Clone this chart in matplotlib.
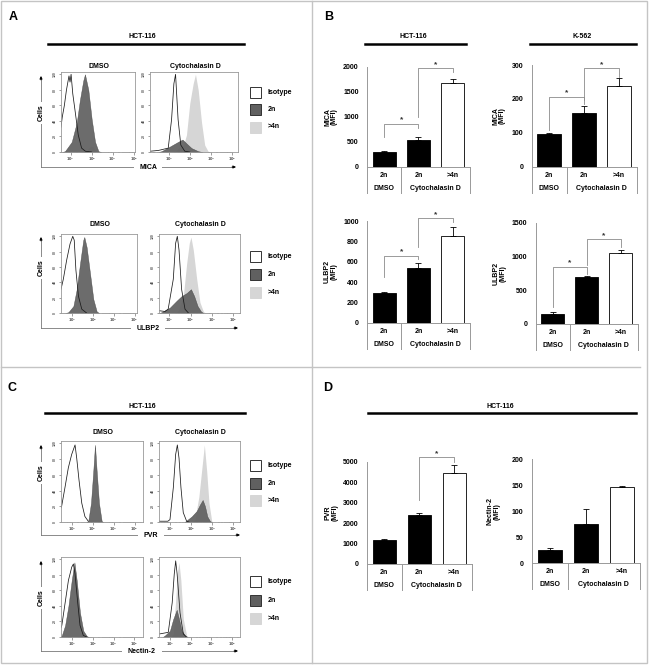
import numpy as np
import matplotlib
matplotlib.use('Agg')
import matplotlib.pyplot as plt
from matplotlib.patches import Rectangle

W, H = 649, 665
plt.rcParams['font.family'] = ['Liberation Sans', 'DejaVu Sans']
plt.rcParams['font.weight'] = 'bold'

# ---------------- bar data (MFI) ----------------
bar_labels = ['2n', '2n', '>4n']
group_labels = ['DMSO', 'Cytochalasin D']
mica_hct = [290, 530, 1680]
mica_hct_err = [20, 60, 80]
mica_k562 = [95, 158, 238]
mica_k562_err = [5, 20, 25]
ulbp2_hct = [295, 540, 855]
ulbp2_hct_err = [10, 50, 90]
ulbp2_k562 = [150, 700, 1050]
ulbp2_k562_err = [25, 15, 50]
pvr_hct = [1150, 2400, 4470]
pvr_hct_err = [50, 100, 380]
nectin_hct = [26, 76, 147]
nectin_hct_err = [4, 28, 1.5]

# significance brackets: (bar i, bar j, top, left leg end, right leg end)
mica_hct_sig = [(0, 1, 850, 600, 780), (1, 2, 1967, 1000, 1900)]
mica_k562_sig = [(0, 1, 206, 108, 197), (1, 2, 290, 185, 265)]
ulbp2_hct_sig = [(0, 1, 656, 452, 623), (1, 2, 1026, 747, 990)]
ulbp2_k562_sig = [(0, 1, 848, 256, 736), (1, 2, 1254, 873, 1145)]
pvr_hct_sig = [(1, 2, 5215, 3128, 5000)]

# ---------------- flow histograms (log10 intensity, % of max) ----------------
mica_dmso_iso = ([1.54, 1.6, 1.7, 1.8, 1.92, 1.97, 2.02, 2.1, 2.2, 2.36, 2.52, 2.7, 3.0],
                 [32, 45, 60, 80, 98, 90, 100, 75, 55, 22, 5, 1, 0])
mica_dmso_2n = ([1.6, 1.73, 2.05, 2.29, 2.44, 2.6, 2.68, 2.84, 3.0, 3.16, 3.32, 3.45],
                [0, 1, 13, 38, 67, 92, 100, 80, 42, 13, 1, 0])
mica_dmso_4n = ([2.7, 2.85, 2.95, 3.05, 3.2, 3.35], [0, 5, 8, 7, 2, 0])
mica_cyto_iso = ([1.1, 1.5, 1.97, 2.13, 2.24, 2.32, 2.44, 2.57, 2.76, 3.0],
                 [1, 2, 5, 42, 88, 100, 42, 9, 1, 0])
mica_cyto_4n = ([2.3, 2.44, 2.7, 2.84, 3.0, 3.16, 3.27, 3.4, 3.56, 3.71, 3.87, 4.0],
                [0, 5, 9, 22, 63, 88, 100, 80, 38, 9, 1, 0])
mica_cyto_2n = ([1.5, 1.65, 2.05, 2.44, 2.65, 2.84, 3.08, 3.4, 3.6],
                [0, 1, 7, 13, 16, 11, 5, 1, 0])

ulbp2_dmso_iso = ([1.49, 1.6, 1.76, 1.92, 2.05, 2.12, 2.2, 2.32, 2.48, 2.71],
                  [31, 44, 69, 90, 100, 95, 56, 22, 5, 0])
ulbp2_dmso_2n = ([1.7, 1.84, 2.08, 2.24, 2.4, 2.55, 2.6, 2.71, 2.87, 3.03, 3.19, 3.3],
                 [0, 1, 9, 31, 65, 95, 99, 86, 52, 18, 2, 0])
ulbp2_cyto_iso = ([1.52, 1.8, 1.95, 2.19, 2.3, 2.38, 2.46, 2.58, 2.74, 2.9],
                  [3, 2, 5, 44, 91, 100, 82, 31, 5, 0])
ulbp2_cyto_4n = ([2.3, 2.42, 2.66, 2.82, 2.94, 3.02, 3.13, 3.29, 3.44, 3.6, 3.7],
                 [0, 3, 22, 65, 91, 99, 82, 44, 14, 2, 0])
ulbp2_cyto_2n = ([1.55, 1.64, 2.03, 2.35, 2.58, 2.82, 3.02, 3.17, 3.33, 3.49, 3.6],
                 [0, 1, 7, 16, 22, 26, 31, 22, 9, 2, 0])

pvr_dmso_iso = ([1.49, 1.52, 1.68, 1.84, 2.0, 2.08, 2.16, 2.24, 2.35, 2.48, 2.63, 2.79],
                [18, 20, 44, 69, 86, 92, 98, 81, 53, 24, 7, 1])
pvr_dmso_2n = ([2.7, 2.79, 2.92, 3.03, 3.11, 3.19, 3.3, 3.43, 3.5],
               [0, 1, 24, 65, 98, 65, 24, 1, 0])
pvr_cyto_iso = ([1.48, 1.9, 2.0, 2.16, 2.27, 2.35, 2.43, 2.52, 2.63, 2.79, 2.9],
                [1, 1, 3, 44, 86, 98, 81, 44, 12, 1, 0])
pvr_cyto_4n = ([3.1, 3.18, 3.37, 3.5, 3.63, 3.74, 3.85, 3.98, 4.05],
               [0, 3, 32, 65, 98, 65, 24, 1, 0])
pvr_cyto_2n = ([2.7, 2.79, 3.03, 3.27, 3.42, 3.55, 3.66, 3.77, 3.9, 4.0],
               [0, 2, 7, 14, 22, 28, 20, 7, 1, 0])

nectin_dmso_iso = ([1.45, 1.49, 1.65, 1.81, 1.97, 2.05, 2.13, 2.26, 2.37, 2.53, 2.7],
                   [12, 15, 44, 73, 90, 94, 81, 44, 15, 2, 0])
nectin_dmso_2n = ([1.45, 1.49, 1.65, 1.81, 1.97, 2.1, 2.21, 2.37, 2.53, 2.7, 2.8],
                  [1, 2, 15, 40, 73, 96, 73, 31, 8, 1, 0])
nectin_cyto_iso = ([1.47, 1.51, 1.92, 2.11, 2.21, 2.28, 2.35, 2.49, 2.65, 2.8],
                   [4, 4, 6, 44, 81, 98, 81, 31, 4, 0])
nectin_cyto_4n = ([2.05, 2.16, 2.27, 2.37, 2.44, 2.53, 2.65, 2.81, 2.9],
                  [0, 4, 44, 85, 96, 73, 23, 2, 0])
nectin_cyto_2n = ([1.65, 1.76, 2.0, 2.16, 2.33, 2.44, 2.57, 2.73, 2.85],
                  [0, 2, 8, 23, 35, 23, 8, 2, 0])

legend_names = ['Isotype', '2n', '>4n']
c_2n = '#606060'
c_4n = '#d6d6d6'
c_line = '#8a8a8a'

fig = plt.figure(figsize=(W / 100, H / 100), dpi=100)

# overlay in pixel coords for frames, headers, arrows
ov = fig.add_axes([0, 0, 1, 1])
ov.set_xlim(0, W)
ov.set_ylim(H, 0)
ov.axis('off')


def add_ax(x0, y0, x1, y1):
    return fig.add_axes([x0 / W, 1 - y1 / H, (x1 - x0) / W, (y1 - y0) / H])


def hline(x0, x1, y, **kw):
    ov.plot([x0, x1], [y, y], **kw)


def txt(x, y, s, size=5, **kw):
    ov.text(x, y, s, fontsize=size, ha=kw.pop('ha', 'center'), va=kw.pop('va', 'center'),
            fontweight='bold', **kw)


# frame
ov.add_patch(Rectangle((1, 1), 646, 662, fill=False, ec='#c4c4c4', lw=1.0))
ov.plot([312, 312], [1, 663], color='#c4c4c4', lw=1.0)
hline(1, 640, 367, color='#c4c4c4', lw=1.0)

# panel letters
for lx, ly, s in [(13, 17, 'A'), (329, 17, 'B'), (12, 388, 'C'), (328, 388, 'D')]:
    txt(lx, ly, s, size=9)

# cell line headers
for cx, y, x0, x1, s in [(142, 37, 48, 244, 'HCT-116'), (413, 37, 365, 466, 'HCT-116'),
                         (582, 37, 530, 636, 'K-562'), (142, 406, 45, 245, 'HCT-116'),
                         (500, 406, 368, 636, 'HCT-116')]:
    txt(cx, y, s)
    hline(x0, x1, y + 7, color='black', lw=1.8)


def histo(x0, x1, y0, y1, lim, curves):
    ax = add_ax(x0, y0, x1, y1)
    iso, n2, n4 = curves
    if n4 is not None:
        ax.fill_between(n4[0], n4[1], color=c_4n, lw=0)
    if n2 is not None:
        ax.fill_between(n2[0], n2[1], color=c_2n, lw=0.3, ec='#404040', alpha=0.92)
    ax.plot(iso[0], iso[1], color='#1a1a1a', lw=0.55)
    ax.set_xlim(*lim)
    ax.set_ylim(0, 103)
    ax.set_xticks([2, 3, 4, 5])
    ax.set_xticklabels([r'$10^2$', r'$10^3$', r'$10^4$', r'$10^5$'])
    minors = [np.log10(k) + n for n in range(1, 6) for k in range(2, 10)]
    ax.set_xticks([m for m in minors if lim[0] < m < lim[1]], minor=True)
    ax.set_yticks([0, 20, 40, 60, 80, 100])
    ax.set_yticklabels(['0', '20', '40', '60', '80', '100'], rotation=90, va='center')
    ax.tick_params(labelsize=2.5, length=1.8, width=0.4, pad=1, colors='#555')
    ax.tick_params(which='minor', length=1, width=0.3, colors='#555')
    for sp in ax.spines.values():
        sp.set_color('#999')
        sp.set_linewidth(0.6)
    return ax


hist_rows = [
    dict(y0=72, y1=152, dx=(61, 135), dlim=(1.54, 5.06), cx=(150, 238), clim=(1.1, 5.3),
         title_y=66, arrow_top=76, base=167, cells_y=113, label='MICA', label_x=148, ax_end=236,
         leg_y=[87, 104, 121.5],
         dmso=(mica_dmso_iso, mica_dmso_2n, mica_dmso_4n), cyto=(mica_cyto_iso, mica_cyto_2n, mica_cyto_4n)),
    dict(y0=234, y1=313, dx=(61, 137), dlim=(1.49, 5.11), cx=(159, 240), clim=(1.52, 5.32),
         title_y=225, arrow_top=237, base=328, cells_y=268, label='ULBP2', label_x=148, ax_end=238,
         leg_y=[251, 269, 287],
         dmso=(ulbp2_dmso_iso, ulbp2_dmso_2n, None), cyto=(ulbp2_cyto_iso, ulbp2_cyto_2n, ulbp2_cyto_4n)),
    dict(y0=441, y1=522, dx=(61, 143), dlim=(1.49, 5.4), cx=(159, 240), clim=(1.48, 5.32),
         title_y=433, arrow_top=445, base=535, cells_y=473, label='PVR', label_x=151, ax_end=240,
         leg_y=[460, 478, 495],
         dmso=(pvr_dmso_iso, pvr_dmso_2n, None), cyto=(pvr_cyto_iso, pvr_cyto_2n, pvr_cyto_4n)),
    dict(y0=557, y1=637, dx=(61, 143), dlim=(1.45, 5.42), cx=(159, 240), clim=(1.47, 5.4),
         title_y=None, arrow_top=561, base=651, cells_y=598, label='Nectin-2', label_x=142, ax_end=238,
         leg_y=[576, 595, 613],
         dmso=(nectin_dmso_iso, nectin_dmso_2n, None), cyto=(nectin_cyto_iso, nectin_cyto_2n, nectin_cyto_4n)),
]

for r in hist_rows:
    histo(r['dx'][0], r['dx'][1], r['y0'], r['y1'], r['dlim'], r['dmso'])
    histo(r['cx'][0], r['cx'][1], r['y0'], r['y1'], r['clim'], r['cyto'])
    if r['title_y'] is not None:
        txt((r['dx'][0] + r['dx'][1]) / 2 + 1, r['title_y'], 'DMSO')
        txt((r['cx'][0] + r['cx'][1]) / 2 + 1, r['title_y'], 'Cytochalasin D')
    # L shaped axis arrows
    ov.plot([41, 41], [r['base'], r['arrow_top'] + 3], color='#777', lw=0.6)
    ov.annotate('', xy=(41, r['arrow_top']), xytext=(41, r['arrow_top'] + 4),
                arrowprops=dict(arrowstyle='-|>', color='black', lw=0.6, mutation_scale=4,
                                shrinkA=0, shrinkB=0))
    hline(41, r['ax_end'] - 3, r['base'], color='#777', lw=0.6)
    ov.annotate('', xy=(r['ax_end'], r['base']), xytext=(r['ax_end'] - 4, r['base']),
                arrowprops=dict(arrowstyle='-|>', color='black', lw=0.6, mutation_scale=4,
                                shrinkA=0, shrinkB=0))
    txt(41, r['cells_y'], 'Cells', rotation=90, bbox=dict(fc='white', ec='none', pad=2))
    txt(r['label_x'], r['base'] + 0.5, r['label'], bbox=dict(fc='white', ec='none', pad=4))
    # legend
    for ly, name, fc in zip(r['leg_y'], legend_names, ['white', c_2n, c_4n]):
        ec = '#333' if fc != c_4n else c_4n
        ov.add_patch(Rectangle((250, ly), 11, 11, fc=fc, ec=ec, lw=0.7))
        txt(268, ly + 5.5, name, ha='left')


def bars(x0, x1, y0, y1, vals, errs, ymax, ystep, ylabel, ylab_x, sig):
    ax = add_ax(x0, y0, x1, y1)
    ax.patch.set_alpha(0)
    xs = np.arange(len(vals))
    ax.bar(xs, vals, width=0.67, color=['black', 'black', 'white'], edgecolor='black', lw=0.6, zorder=2)
    ax.errorbar(xs, vals, yerr=[[0] * len(vals), errs], fmt='none', ecolor='black',
                elinewidth=0.6, capsize=2.5, capthick=0.6, zorder=3)
    ax.set_xlim(-0.5, 2.5)
    ax.set_ylim(0, ymax)
    ax.set_yticks(np.arange(0, ymax + 1, ystep))
    ax.set_xticks([])
    ax.tick_params(axis='y', length=0, pad=6, labelsize=5)
    for s in ['top', 'right']:
        ax.spines[s].set_visible(False)
    for s in ['left', 'bottom']:
        ax.spines[s].set_color('#999')
        ax.spines[s].set_linewidth(0.7)
    hpx = y1 - y0
    tr = ax.get_xaxis_transform()
    for sx in [-0.5, 0.5, 2.5]:
        ax.plot([sx, sx], [0, -26 / hpx], transform=tr, color='#999', lw=0.7, clip_on=False)
    for i, lab in enumerate(bar_labels):
        ax.text(i, -8.5 / hpx, lab, transform=tr, ha='center', va='center', fontsize=5, fontweight='bold')
    ax.text(0, -21.5 / hpx, group_labels[0], transform=tr, ha='center', va='center', fontsize=5, fontweight='bold')
    ax.text(1.5, -21.5 / hpx, group_labels[1], transform=tr, ha='center', va='center', fontsize=5, fontweight='bold')
    for i, j, top, lb, rb in sig:
        ax.plot([i, i, j, j], [lb, top, top, rb], color=c_line, lw=0.6, clip_on=False, zorder=4)
        ax.annotate('*', xy=((i + j) / 2, top), xytext=(0, 0.5), textcoords='offset pixels',
                    ha='center', va='bottom', fontsize=6, fontweight='bold', color='#333',
                    annotation_clip=False)
    txt(ylab_x, (y0 + y1) / 2, ylabel, rotation=90, linespacing=1.0)
    return ax


bars(367, 470, 66.7, 166.7, mica_hct, mica_hct_err, 2000, 500, 'MICA\n(MFI)', 331, mica_hct_sig)
bars(531.5, 636.5, 65, 166.7, mica_k562, mica_k562_err, 300, 100, 'MICA\n(MFI)', 499, mica_k562_sig)
bars(367, 470, 221, 322.7, ulbp2_hct, ulbp2_hct_err, 1000, 200, 'ULBP2\n(MFI)', 331, ulbp2_hct_sig)
bars(535.5, 637.5, 222.7, 324, ulbp2_k562, ulbp2_k562_err, 1500, 500, 'ULBP2\n(MFI)', 500, ulbp2_k562_sig)
bars(366.8, 471.8, 461.7, 564, pvr_hct, pvr_hct_err, 5000, 1000, 'PVR\n(MFI)', 332, pvr_hct_sig)
bars(531.7, 639.7, 459, 563.3, nectin_hct, nectin_hct_err, 200, 50, 'Nectin-2\n(MFI)', 494, [])

fig.savefig('out.png', dpi=100, facecolor='white')
